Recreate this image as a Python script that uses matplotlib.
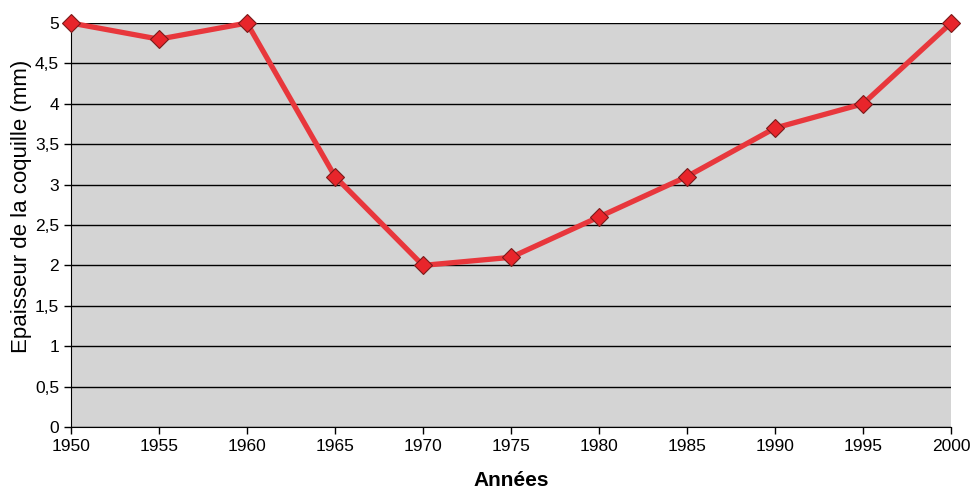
import numpy as np
import matplotlib.pyplot as plt
from matplotlib.ticker import FuncFormatter

plt.rc('font', family=['Liberation Sans', 'DejaVu Sans'])

# data
years = [1950, 1955, 1960, 1965, 1970, 1975, 1980, 1985, 1990, 1995, 2000]
thickness = [5.0, 4.8, 5.0, 3.1, 2.0, 2.1, 2.6, 3.1, 3.7, 4.0, 5.0]
y_ticks = np.arange(0, 5.01, 0.5)

fig = plt.figure(figsize=(9.71, 4.95), dpi=100)
ax = fig.add_axes([0.0731, 0.1374, 0.9063, 0.8161])
ax.set_facecolor('#d4d4d4')

ax.plot(years, thickness, '-', color='#e8373c', lw=3.8, zorder=3,
        marker='D', markersize=9, markerfacecolor='#e8252b', markeredgecolor='#7a1a1a',
        markeredgewidth=0.8, clip_on=False)

ax.set_xlim(1950, 2000)
ax.set_ylim(0, 5)
ax.set_xticks(years)
ax.set_yticks(y_ticks)
ax.yaxis.set_major_formatter(FuncFormatter(lambda v, p: ('%g' % v).replace('.', ',')))
ax.grid(axis='y', color='black', lw=1)
ax.set_axisbelow(True)

ax.spines['right'].set_visible(False)
ax.spines['top'].set_visible(False)
ax.tick_params(direction='out', length=5, width=1, labelsize=12.5, colors='black')

ax.set_xlabel('Années', fontsize=15, fontweight='bold')
ax.xaxis.set_label_coords(0.5, -0.108)
ax.set_ylabel('Epaisseur de la coquille (mm)', fontsize=16)
ax.yaxis.set_label_coords(-0.044, 0.547)

fig.savefig('out.png', dpi=100)
